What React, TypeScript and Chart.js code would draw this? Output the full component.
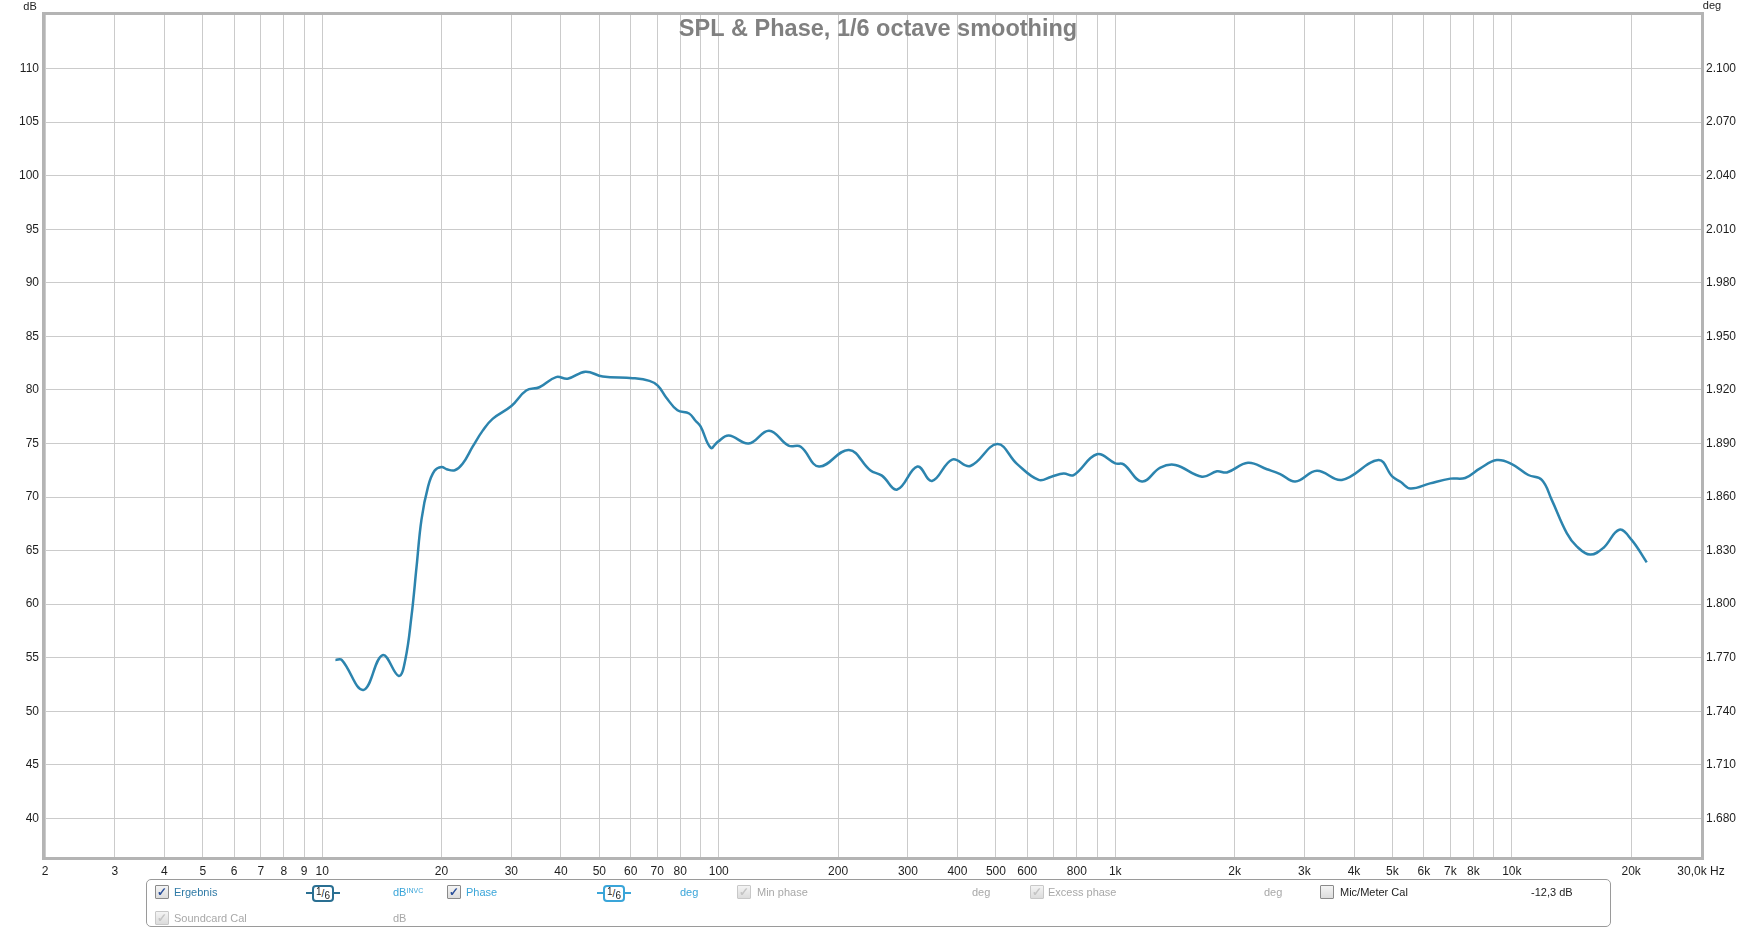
import React, { useEffect, useRef } from "react";
import { Chart, registerables } from "chart.js";

Chart.register(...registerables);

const TITLE = "SPL & Phase, 1/6 octave smoothing";

const freqHz = [
  10.8, 11.2, 12.7, 14.2, 15.6, 16.2, 16.8, 17.3, 17.8, 18.5, 19.2, 20.0, 20.6, 21.6, 22.6, 24.0,
  25.4, 26.9, 30.0, 32.7, 35.3, 38.9, 41.6, 46.1, 51.0, 60.7, 66.9, 70.2, 73.7, 78.7, 84.2, 87.5,
  90.0, 95.5, 99.4, 106, 119, 134, 150, 161, 179, 213, 241, 258, 282, 317, 345, 388, 431, 504,
  565, 641, 690, 741, 785, 899, 1000, 1050, 1168, 1299, 1417, 1654, 1805, 1912, 2161, 2413,
  2606, 2843, 3225, 3727, 4612, 5000, 5250, 5550, 6224, 7000, 7627, 8318, 9163, 10000, 11009,
  11902, 12610, 13760, 14580, 15750, 17010, 18670, 20050, 21890,
];

const splDb = [
  54.8, 54.8, 52.0, 55.25, 53.3, 54.8, 58.9, 63.5, 67.9, 71.0, 72.45, 72.8, 72.6, 72.5, 73.1, 74.75,
  76.2, 77.3, 78.5, 79.95, 80.25, 81.2, 81.05, 81.7, 81.25, 81.1, 80.85, 80.4, 79.3, 78.1, 77.8, 77.1,
  76.6, 74.6, 75.15, 75.75, 75.0, 76.2, 74.8, 74.7, 72.85, 74.4, 72.5, 72.0, 70.7, 72.85, 71.5, 73.5, 72.9, 74.95,
  73.1, 71.6, 71.9, 72.2, 72.05, 74.0, 73.15, 73.05, 71.45, 72.75, 73.0, 71.9, 72.4, 72.3, 73.2, 72.6,
  72.15, 71.45, 72.45, 71.6, 73.45, 71.9, 71.4, 70.8, 71.28, 71.72, 71.78, 72.68, 73.45, 73.08, 72.06,
  71.6, 69.74, 66.64, 65.4, 64.63, 65.25, 66.95, 66.0, 63.9,
];

const xTickValues = [
  2, 3, 4, 5, 6, 7, 8, 9,
  10, 20, 30, 40, 50, 60, 70, 80, 90,
  100, 200, 300, 400, 500, 600, 700, 800, 900,
  1000, 2000, 3000, 4000, 5000, 6000, 7000, 8000, 9000,
  10000, 20000, 30000,
];

const xTickLabels = [
  "2", "3", "4", "5", "6", "7", "8", "9",
  "10", "20", "30", "40", "50", "60", "70", "80", "",
  "100", "200", "300", "400", "500", "600", "", "800", "",
  "1k", "2k", "3k", "4k", "5k", "6k", "7k", "8k", "",
  "10k", "20k", "30,0k Hz",
];

const dbTicks = [40, 45, 50, 55, 60, 65, 70, 75, 80, 85, 90, 95, 100, 105, 110];
const degTickLabels = [
  "1.680", "1.710", "1.740", "1.770", "1.800", "1.830", "1.860", "1.890",
  "1.920", "1.950", "1.980", "2.010", "2.040", "2.070", "2.100",
];

const X_MIN = 2;
const X_MAX = 30000;
const DB_MIN = 36.4;
const DB_MAX = 115;
const DEG_MIN = 1.68 + (DB_MIN - 40) * 0.006;
const DEG_MAX = 1.68 + (DB_MAX - 40) * 0.006;

const FONT = '"Liberation Sans", Arial, sans-serif';

const overlayPlugin = {
  id: "overlay",
  afterDraw(chart: any) {
    const { ctx, chartArea: a } = chart;
    ctx.save();
    ctx.strokeStyle = "#b4b4b4";
    ctx.lineWidth = 3;
    ctx.strokeRect(a.left - 1.5, a.top - 1.5, a.right - a.left + 3, a.bottom - a.top + 3);
    ctx.fillStyle = "#808080";
    ctx.font = `bold 23.5px ${FONT}`;
    ctx.textAlign = "center";
    ctx.textBaseline = "middle";
    ctx.fillText(TITLE, 878, 30);
    ctx.font = `11px ${FONT}`;
    ctx.fillStyle = "#222";
    ctx.fillText("dB", 30, 7);
    ctx.fillText("deg", 1712, 6);
    ctx.restore();
  },
};

function CheckBox({ state }: { state: "on" | "off" | "dis" }) {
  return (
    <span
      style={{
        position: "absolute",
        width: 12,
        height: 12,
        border: "1px solid " + (state === "dis" ? "#c8c8c8" : "#8a8a8a"),
        background: "linear-gradient(#f4f4f4, #dcdcdc)",
        borderRadius: 1,
        fontSize: 12,
        lineHeight: "12px",
        textAlign: "center",
        color: state === "on" ? "#2a4f9a" : "#c4c4c4",
        fontWeight: "bold",
      }}
    >
      {state === "off" ? "" : "✓"}
    </span>
  );
}

function SmoothBox({ color }: { color: string }) {
  return (
    <span style={{ position: "absolute", width: 34, height: 16, display: "block" }}>
      <span style={{ position: "absolute", left: 0, top: 7, width: 34, height: 2, background: color }} />
      <span
        style={{
          position: "absolute",
          left: 6,
          top: 0,
          width: 18,
          height: 13,
          border: `2px solid ${color}`,
          borderRadius: 4,
          background: "#fff",
          fontSize: 10,
          lineHeight: "13px",
          textAlign: "center",
          color: "#222",
        }}
      >
        <span style={{ position: "relative", top: -2 }}>1</span>/<span style={{ position: "relative", top: 2 }}>6</span>
      </span>
    </span>
  );
}

function Legend() {
  const row1 = 885;
  const row2 = 911;
  const t = (x: number, y: number, text: string, color: string, extra?: any) => (
    <span
      style={{
        position: "absolute",
        left: x,
        top: y,
        fontSize: 11,
        lineHeight: "14px",
        color,
        whiteSpace: "nowrap",
        ...extra,
      }}
    >
      {text}
    </span>
  );
  const at = (x: number, y: number, el: any) => (
    <span style={{ position: "absolute", left: x, top: y }}>{el}</span>
  );
  const blue = "#2f7aa6";
  const light = "#3aa5d9";
  const grey = "#a8a8a8";
  return (
    <div style={{ position: "absolute", left: 0, top: 0, width: 1756, height: 930, fontFamily: FONT, pointerEvents: "none" }}>
      <div
        style={{
          position: "absolute",
          left: 146,
          top: 879,
          width: 1465,
          height: 48,
          border: "1px solid #9a9a9a",
          borderRadius: 5,
          boxSizing: "border-box",
        }}
      />
      {at(155, row1, <CheckBox state="on" />)}
      {t(174, row1, "Ergebnis", blue)}
      {at(306, row1, <SmoothBox color="#2a6f92" />)}
      <span style={{ position: "absolute", left: 393, top: row1, fontSize: 11, lineHeight: "14px", color: light }}>
        dB<sup style={{ fontSize: 7, verticalAlign: "top", position: "relative", top: -1 }}>INVC</sup>
      </span>
      {at(447, row1, <CheckBox state="on" />)}
      {t(466, row1, "Phase", light)}
      {at(597, row1, <SmoothBox color={light} />)}
      {t(680, row1, "deg", light)}
      {at(737, row1, <CheckBox state="dis" />)}
      {t(757, row1, "Min phase", grey)}
      {t(972, row1, "deg", grey)}
      {at(1030, row1, <CheckBox state="dis" />)}
      {t(1048, row1, "Excess phase", grey)}
      {t(1264, row1, "deg", grey)}
      {at(1320, row1, <CheckBox state="off" />)}
      {t(1340, row1, "Mic/Meter Cal", "#222")}
      {t(1531, row1, "-12,3 dB", "#222")}
      {at(155, row2, <CheckBox state="dis" />)}
      {t(174, row2, "Soundcard Cal", grey)}
      {t(393, row2, "dB", grey)}
    </div>
  );
}

export default function App() {
  const canvasRef = useRef<HTMLCanvasElement | null>(null);

  useEffect(() => {
    const canvas = canvasRef.current;
    if (!canvas) return;
    const points = freqHz.map((f, i) => ({ x: f, y: splDb[i] }));
    const chart = new Chart(canvas, {
      type: "line",
      data: {
        datasets: [
          {
            label: "Ergebnis",
            data: points,
            borderColor: "#2c84ae",
            borderWidth: 2.5,
            pointRadius: 0,
            tension: 0.4,
            fill: false,
            yAxisID: "y",
          },
        ],
      },
      options: {
        animation: false,
        responsive: true,
        maintainAspectRatio: false,
        layout: { padding: { top: 15, left: 0, right: 0, bottom: 0 } },
        plugins: { legend: { display: false }, title: { display: false }, tooltip: { enabled: false } },
        scales: {
          x: {
            type: "logarithmic",
            position: "bottom",
            min: X_MIN,
            max: X_MAX,
            afterFit: (s: any) => {
              s.height = 73;
            },
            afterBuildTicks: (s: any) => {
              s.ticks = xTickValues.map((v) => ({ value: v }));
            },
            grid: { color: "#cbcbcb", lineWidth: 1, drawTicks: false },
            border: { display: false },
            ticks: {
              autoSkip: false,
              maxRotation: 0,
              minRotation: 0,
              padding: 7,
              color: "#1e1e1e",
              font: { family: FONT, size: 12 },
              callback: (value: any) => {
                const idx = xTickValues.indexOf(Number(value));
                return idx >= 0 ? xTickLabels[idx] : "";
              },
            },
          },
          y: {
            type: "linear",
            position: "left",
            min: DB_MIN,
            max: DB_MAX,
            afterFit: (s: any) => {
              s.width = 45;
            },
            afterBuildTicks: (s: any) => {
              s.ticks = dbTicks.map((v) => ({ value: v }));
            },
            grid: { color: "#cbcbcb", lineWidth: 1, drawTicks: false },
            border: { display: false },
            ticks: {
              padding: 6,
              color: "#1e1e1e",
              font: { family: FONT, size: 12 },
              callback: (value: any) => String(value),
            },
          },
          y2: {
            type: "linear",
            position: "right",
            min: DEG_MIN,
            max: DEG_MAX,
            afterFit: (s: any) => {
              s.width = 55;
            },
            afterBuildTicks: (s: any) => {
              s.ticks = degTickLabels.map((l) => ({ value: parseFloat(l) }));
            },
            grid: { display: false, drawTicks: false },
            border: { display: false },
            ticks: {
              padding: 5,
              color: "#1e1e1e",
              font: { family: FONT, size: 12 },
              callback: (value: any) => {
                const idx = degTickLabels.findIndex((l) => Math.abs(parseFloat(l) - Number(value)) < 1e-6);
                return idx >= 0 ? degTickLabels[idx] : "";
              },
            },
          },
        },
      },
      plugins: [overlayPlugin],
    } as any);
    return () => chart.destroy();
  }, []);

  return (
    <div style={{ position: "fixed", left: 0, top: 0, width: 1756, height: 930, background: "#fff" }}>
      <canvas ref={canvasRef} style={{ display: "block" }} />
      <Legend />
    </div>
  );
}
